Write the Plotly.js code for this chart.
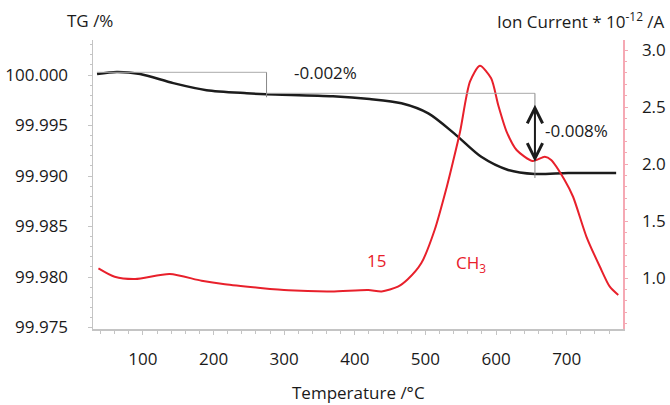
<!DOCTYPE html>
<html>
<head>
<meta charset="utf-8">
<script src="https://cdn.plot.ly/plotly-3.0.1.min.js"></script>
<style>html,body{margin:0;padding:0;background:#fff}#chart{width:670px;height:405px}</style>
</head>
<body>
<div id="chart"></div>
<script>
// TG curve (left axis)
const tgTemp = [35, 63, 96, 143, 190, 247, 275, 369, 421, 466, 504, 541, 579, 617, 655, 702, 770];
const tgValue = [100.0001, 100.0003, 100.0001, 99.9992, 99.9985, 99.9982, 99.9981, 99.9979, 99.99762, 99.9972, 99.9962, 99.9942, 99.9919, 99.9906, 99.9902, 99.9903, 99.9903];

// Ion current m/z 15 (right axis)
const ionTemp = [37, 60, 89, 138, 183, 216, 263, 306, 367, 419, 438, 461, 475, 494, 513, 530, 539, 549, 563, 577, 593, 603, 615, 629, 652, 669, 678, 697, 709, 728, 747, 761, 773];
const ionValue = [1.085, 1.011, 0.991, 1.035, 0.976, 0.945, 0.915, 0.892, 0.883, 0.895, 0.883, 0.924, 0.989, 1.129, 1.421, 1.795, 2.020, 2.283, 2.722, 2.862, 2.752, 2.518, 2.283, 2.123, 2.026, 2.064, 2.035, 1.860, 1.713, 1.362, 1.099, 0.924, 0.851];

// Step markers (mass-loss construction)
const step1Temp = [35, 275];
const step1TG = [100.00027, 99.9980];
const step2Temp = [275, 655];
const step2TG = [99.99819, 99.9898];
const arrowTG = [99.9972, 99.99142];
const stepLabels = ["-0.002%", "-0.008%"];
const stepLabelTemp = [359, 714];
const stepLabelTG = [100.0003, 99.99455];

const xTitle = "Temperature /°C";
const yTitle = "TG /%";
const y2Title = "Ion Current * 10<sup>-12</sup> /A";

const FONT = "Open Sans, Noto Sans, sans-serif";
const RED = "#e8202b";
const GRAY = "#c4c4c4";

const traces = [
  {x: tgTemp, y: tgValue, type: "scatter", mode: "lines", yaxis: "y",
   line: {color: "#1c1c1c", width: 2.5, shape: "spline", smoothing: 0.8}, hoverinfo: "skip"},
  {x: ionTemp, y: ionValue, type: "scatter", mode: "lines", yaxis: "y2",
   line: {color: RED, width: 2, shape: "spline", smoothing: 0.7}, hoverinfo: "skip"}
];

const shapes = [
  {type: "line", xref: "x", yref: "y", x0: step1Temp[0], x1: step1Temp[1], y0: step1TG[0], y1: step1TG[0], line: {color: "#aaaaaa", width: 1}},
  {type: "line", xref: "x", yref: "y", x0: step1Temp[1], x1: step1Temp[1], y0: step1TG[0], y1: step1TG[1] - 0.0002, line: {color: "#888888", width: 1}},
  {type: "line", xref: "x", yref: "y", x0: step2Temp[0], x1: step2Temp[1], y0: step2TG[0], y1: step2TG[0], line: {color: "#aaaaaa", width: 1}},
  {type: "line", xref: "x", yref: "y", x0: step2Temp[1], x1: step2Temp[1], y0: step2TG[0], y1: step2TG[1], line: {color: "#888888", width: 1}}
];

const annotations = [
  {text: yTitle, xref: "paper", yref: "paper", x: -0.053, y: 1.0, yshift: 20, xanchor: "left", yanchor: "middle", showarrow: false, font: {size: 17, color: "#1a1a1a"}},
  {text: y2Title, xref: "paper", yref: "paper", x: 1.0825, y: 1.0, yshift: 20, xanchor: "right", yanchor: "middle", showarrow: false, font: {size: 17, color: "#1a1a1a"}},
  {text: xTitle, xref: "paper", yref: "paper", x: 0.5, y: -0.221, xanchor: "center", yanchor: "middle", showarrow: false, font: {size: 17, color: "#1a1a1a"}},
  {text: stepLabels[0], xref: "x", yref: "y", x: stepLabelTemp[0], y: stepLabelTG[0], showarrow: false, xanchor: "center", yanchor: "middle", font: {size: 17, color: "#1a1a1a"}},
  {text: stepLabels[1], xref: "x", yref: "y", x: stepLabelTemp[1], y: stepLabelTG[1], showarrow: false, xanchor: "center", yanchor: "middle", font: {size: 17, color: "#1a1a1a"}},
  {text: "15", xref: "x", yref: "y2", x: 431, y: 1.158, showarrow: false, xanchor: "center", yanchor: "middle", font: {size: 17, color: RED}},
  {text: "CH<sub>3</sub>", xref: "x", yref: "y2", x: 541, y: 1.13, showarrow: false, xanchor: "left", yanchor: "middle", font: {size: 17, color: RED}},
  {text: "", xref: "x", yref: "y", axref: "x", ayref: "y", x: step2Temp[1], y: arrowTG[1], ax: step2Temp[1], ay: arrowTG[0],
   showarrow: true, arrowside: "end+start", arrowhead: 5, startarrowhead: 5, arrowsize: 1.5, startarrowsize: 1.5, arrowwidth: 2, arrowcolor: "#1c1c1c"}
];

const layout = {
  width: 670, height: 405,
  margin: {l: 93, r: 47, t: 40, b: 76, pad: 0},
  paper_bgcolor: "#ffffff", plot_bgcolor: "#ffffff",
  font: {family: FONT, size: 17, color: "#1a1a1a"},
  showlegend: false,
  xaxis: {range: [29.3, 779.7], dtick: 100, tick0: 0, showgrid: false, zeroline: false,
    showline: true, linecolor: GRAY, linewidth: 1.5, ticks: "outside", ticklen: 4, tickcolor: GRAY,
    minor: {dtick: 20, ticks: "outside", ticklen: 3, tickcolor: GRAY},
    tickfont: {size: 17, color: "#1a1a1a"}, ticklabelstandoff: 10},
  yaxis: {range: [99.97485, 100.00347], dtick: 0.005, tick0: 99.975, tickformat: ".3f", showgrid: false, zeroline: false,
    showline: true, linecolor: GRAY, linewidth: 1.5, ticks: "outside", ticklen: 4, tickcolor: GRAY,
    minor: {dtick: 0.001, ticks: "outside", ticklen: 2, tickcolor: GRAY},
    tickfont: {size: 17, color: "#1a1a1a"}, ticklabelstandoff: 16},
  yaxis2: {range: [0.553, 3.088], dtick: 0.5, tick0: 0, tickformat: ".1f", overlaying: "y", side: "right", anchor: "x",
    showgrid: false, zeroline: false, showline: true, linecolor: "#f5a9b4", linewidth: 1.5,
    ticks: "outside", ticklen: 3, tickcolor: "#f5a9b4",
    minor: {dtick: 0.1, ticks: "outside", ticklen: 2, tickcolor: "#f5a9b4"},
    tickfont: {size: 17, color: "#1a1a1a"}, ticklabelstandoff: 11},
  shapes: shapes,
  annotations: annotations
};

Plotly.newPlot("chart", traces, layout, {staticPlot: true, displayModeBar: false});
</script>
</body>
</html>
